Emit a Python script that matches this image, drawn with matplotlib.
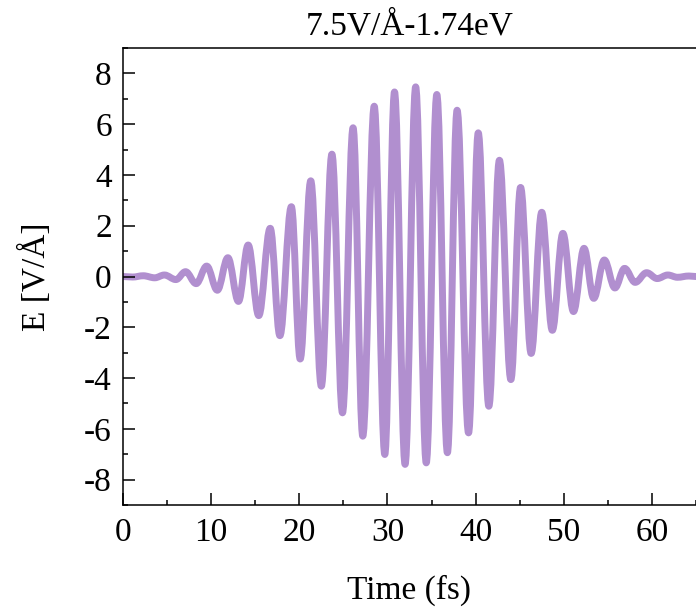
import matplotlib
matplotlib.use("Agg")
import matplotlib.pyplot as plt
from matplotlib.path import Path
from matplotlib.patches import PathPatch
from matplotlib.ticker import MultipleLocator

# extrema of the pulse (time in fs, field in V/A)
time_fs = [0.0, 1.1, 2.3, 3.6, 4.7, 6.0, 7.1, 8.3, 9.5, 10.7, 11.9, 13.1,
           14.2, 15.4, 16.7, 17.8, 19.1, 20.1, 21.3, 22.5, 23.7, 24.9, 26.1,
           27.2, 28.5, 29.7, 30.8, 32.0, 33.2, 34.4, 35.6, 36.8, 37.9, 39.2,
           40.3, 41.5, 42.7, 44.0, 45.1, 46.3, 47.5, 48.7, 49.9, 51.1, 52.3,
           53.4, 54.6, 55.8, 56.9, 58.1, 59.4, 60.6, 61.8, 62.9, 64.2, 65.0]
field = [0.0, -0.02, 0.03, -0.05, 0.06, -0.12, 0.19, -0.28, 0.41, -0.54,
         0.74, -0.98, 1.24, -1.54, 1.90, -2.33, 2.75, -3.25, 3.77, -4.32,
         4.82, -5.37, 5.86, -6.29, 6.71, -7.01, 7.27, -7.40, 7.47, -7.34,
         7.17, -6.94, 6.55, -6.16, 5.66, -5.11, 4.58, -4.06, 3.51, -3.03,
         2.53, -2.12, 1.70, -1.38, 1.11, -0.86, 0.65, -0.45, 0.32, -0.23,
         0.15, -0.08, 0.06, -0.03, 0.02, 0.0]

title = "7.5V/Å-1.74eV"

plt.rcParams['font.family'] = ['Liberation Serif', 'DejaVu Serif']
plt.rcParams['axes.unicode_minus'] = False

fig = plt.figure(figsize=(6.96, 6.08), dpi=100)
ax = fig.add_axes([0.1767, 0.1694, 0.8233, 0.7516])

# smooth curve through the extrema, flat tangents at each peak
k = 0.3642
verts = [(time_fs[0], field[0])]
codes = [Path.MOVETO]
for i in range(len(time_fs) - 1):
    t0, t1 = time_fs[i], time_fs[i + 1]
    dt = t1 - t0
    verts += [(t0 + k * dt, field[i]), (t1 - k * dt, field[i + 1]),
              (t1, field[i + 1])]
    codes += [Path.CURVE4] * 3
ax.add_patch(PathPatch(Path(verts, codes), facecolor='none',
                       edgecolor='#b18fcf', lw=5, capstyle='round',
                       joinstyle='round'))

ax.set_xlim(0, 65)
ax.set_ylim(-9, 9)
ax.xaxis.set_major_locator(MultipleLocator(10))
ax.xaxis.set_minor_locator(MultipleLocator(5))
ax.yaxis.set_major_locator(MultipleLocator(2))
ax.yaxis.set_minor_locator(MultipleLocator(1))
ax.tick_params(which='both', direction='in', width=1.1, labelsize=24)
ax.tick_params(axis='x', pad=9)
ax.tick_params(axis='y', pad=8)
ax.tick_params(which='major', length=8.5)
ax.tick_params(which='minor', length=3.6)
ax.spines['right'].set_visible(False)
for s in ['left', 'bottom', 'top']:
    ax.spines[s].set_linewidth(1.1)

ax.set_xlabel("Time (fs)", fontsize=24, labelpad=19)
ax.set_ylabel("E [V/Å]", fontsize=24, labelpad=23)
ax.set_title(title, fontsize=24, pad=10)

fig.savefig("out.png", dpi=100)
